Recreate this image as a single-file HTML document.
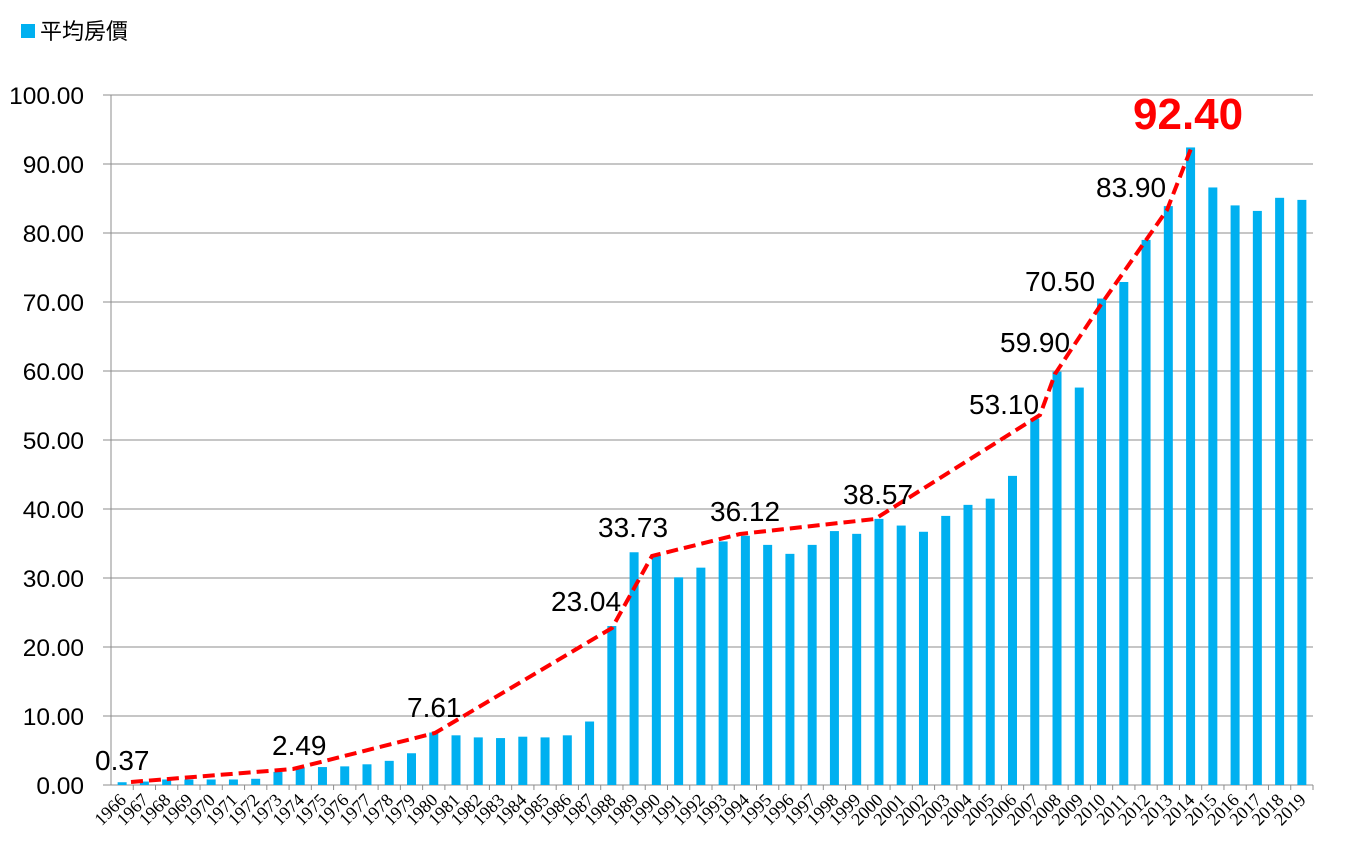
<!DOCTYPE html>
<html><head><meta charset="utf-8"><style>
body{margin:0;background:#fff}
svg{display:block;font-family:"Liberation Sans","Noto Sans CJK TC",sans-serif}
</style></head><body>
<svg width="1361" height="864" viewBox="0 0 1361 864">
<rect x="21" y="24" width="14" height="14" fill="#00b0f0"/>
<text x="40" y="39" font-size="22" fill="#000">平均房價</text>
<g id="grid" stroke="#8c8c8c" stroke-width="1"></g>
<g id="ylab" font-size="24.5" text-anchor="end" fill="#000"></g>
<g id="bars" fill="#00b0f0"></g>
<g id="xlab" font-size="18" text-anchor="end" fill="#000" style="font-family:'Liberation Serif',serif"></g>
<polyline fill="none" stroke="#ff0000" stroke-width="4" stroke-dasharray="12,6" points="131,782 293,769 435,733 612,628 652,556 740,534 875,519 1040,415 1055,374 1100,306 1167,210 1192,146"/>
<g font-size="28" fill="#000">
<text x="95" y="770">0.37</text>
<text x="272" y="755">2.49</text>
<text x="407" y="717">7.61</text>
<text x="551" y="611">23.04</text>
<text x="598" y="537">33.73</text>
<text x="710" y="521">36.12</text>
<text x="843" y="504">38.57</text>
<text x="969" y="414">53.10</text>
<text x="1000" y="352">59.90</text>
<text x="1025" y="291">70.50</text>
<text x="1096" y="197">83.90</text>
</g>
<text x="1133" y="129" font-size="44" font-weight="bold" fill="#ff0000">92.40</text>
</svg>
<script>
const ns="http://www.w3.org/2000/svg";
function el(p,t,a,txt){const e=document.createElementNS(ns,t);for(const k in a)e.setAttribute(k,a[k]);if(txt!=null)e.textContent=txt;document.getElementById(p).appendChild(e);}
const y0=785,sc=6.9,x0=111,x1=1313;
for(let i=0;i<=10;i++){const y=y0-i*10*sc;el("grid","line",{x1:103,x2:x1,y1:y,y2:y});el("ylab","text",{x:84,y:y+9},(i*10).toFixed(2));}
el("grid","line",{x1:x0,x2:x0,y1:95,y2:y0});
const v=[0.4,0.5,0.8,0.8,0.8,0.8,0.9,1.9,2.49,2.6,2.7,3.0,3.5,4.6,7.61,7.2,6.9,6.8,7.0,6.9,7.2,9.2,23.04,33.73,33.2,30.1,31.5,35.3,36.12,34.8,33.5,34.8,36.8,36.4,38.57,37.6,36.7,39.0,40.6,41.5,44.8,53.1,59.9,57.6,70.5,72.9,79.0,83.9,92.4,86.6,84.0,83.2,85.1,84.8];
const bw=(x1-x0)/54;
v.forEach((d,i)=>{const c=x0+bw*(i+0.5);el("bars","rect",{x:c-4.5,y:y0-d*sc,width:9,height:d*sc});
el("grid","line",{x1:x0+bw*(i+1),x2:x0+bw*(i+1),y1:y0,y2:y0+5});
el("xlab","text",{x:c+5,y:801,transform:`rotate(-45 ${c+5} 801)`},1966+i);});
</script>
</body></html>
